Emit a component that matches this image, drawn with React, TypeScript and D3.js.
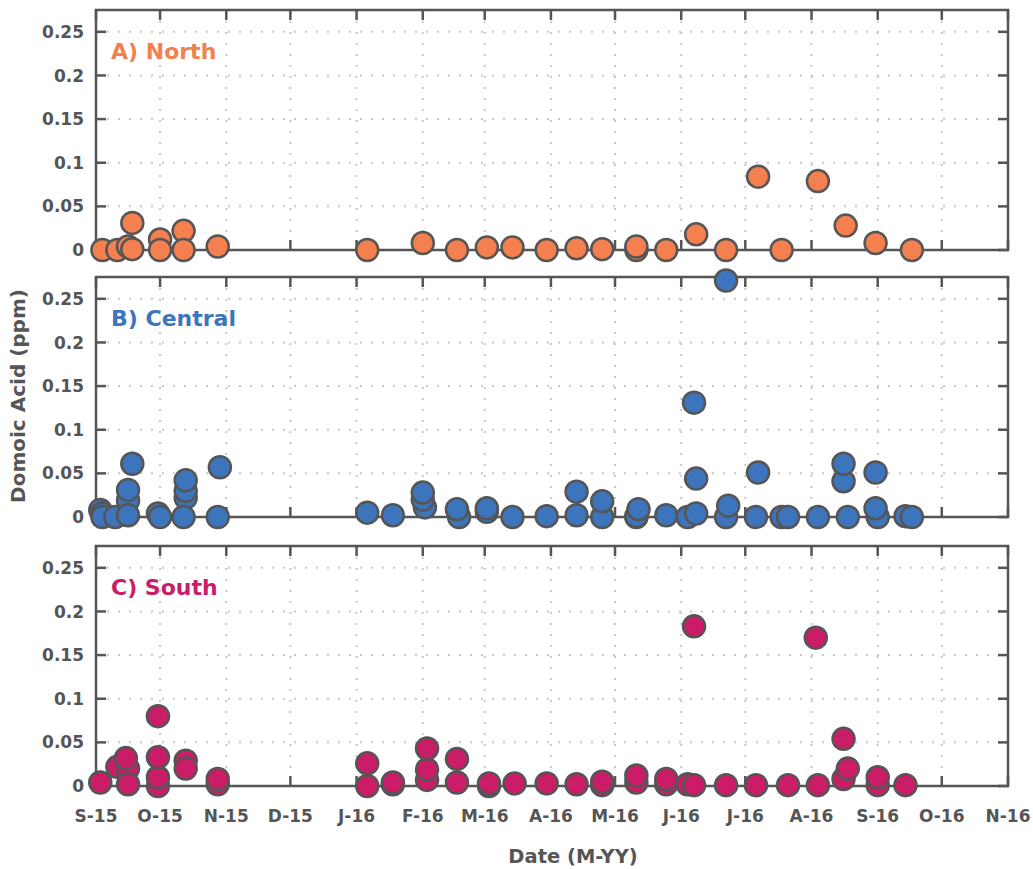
import React from 'react';
import * as d3 from 'd3';

// sample dates and domoic acid (ppm)
const northSamples: [string, number][] = [
  ['2015-09-04', 0], ['2015-09-11', 0], ['2015-09-16', 0.004], ['2015-09-18', 0.031],
  ['2015-09-18', 0.001], ['2015-10-01', 0.012], ['2015-10-01', 0], ['2015-10-12', 0.022],
  ['2015-10-12', 0], ['2015-10-28', 0.004], ['2016-01-06', 0], ['2016-02-01', 0.008],
  ['2016-02-17', 0], ['2016-03-02', 0.003], ['2016-03-14', 0.003], ['2016-03-30', 0],
  ['2016-04-13', 0.002], ['2016-04-25', 0.001], ['2016-05-11', 0], ['2016-05-11', 0.004],
  ['2016-05-25', 0], ['2016-06-08', 0.018], ['2016-06-22', 0], ['2016-07-07', 0.084],
  ['2016-07-18', 0], ['2016-08-04', 0.079], ['2016-08-17', 0.028], ['2016-08-31', 0.008],
  ['2016-09-17', 0],
];

const centralSamples: [string, number][] = [
  ['2015-09-03', 0.008], ['2015-09-04', 0.004], ['2015-09-04', 0], ['2015-09-10', 0],
  ['2015-09-16', 0.019], ['2015-09-16', 0.031], ['2015-09-16', 0.002], ['2015-09-18', 0.061],
  ['2015-09-30', 0.004], ['2015-10-01', 0], ['2015-10-13', 0.022], ['2015-10-13', 0.03],
  ['2015-10-13', 0.042], ['2015-10-12', 0], ['2015-10-29', 0.057], ['2015-10-28', 0],
  ['2016-01-06', 0.005], ['2016-01-18', 0.002], ['2016-02-02', 0.011], ['2016-02-01', 0.02],
  ['2016-02-01', 0.028], ['2016-02-18', 0], ['2016-02-17', 0.009], ['2016-03-02', 0.006],
  ['2016-03-02', 0.01], ['2016-03-14', 0], ['2016-03-30', 0.001], ['2016-04-13', 0.002],
  ['2016-04-13', 0.029], ['2016-04-25', 0], ['2016-04-25', 0.018], ['2016-05-11', 0],
  ['2016-05-11', 0.001], ['2016-05-12', 0.009], ['2016-05-25', 0.002], ['2016-06-04', 0],
  ['2016-06-07', 0.131], ['2016-06-08', 0.004], ['2016-06-08', 0.044], ['2016-06-22', 0],
  ['2016-06-23', 0.013], ['2016-06-22', 0.271], ['2016-07-06', 0], ['2016-07-07', 0.051],
  ['2016-07-18', 0], ['2016-07-21', 0], ['2016-08-04', 0], ['2016-08-16', 0.041],
  ['2016-08-16', 0.061], ['2016-08-18', 0], ['2016-09-01', 0], ['2016-08-31', 0.01],
  ['2016-08-31', 0.051], ['2016-09-14', 0.001], ['2016-09-17', 0],
];

const southSamples: [string, number][] = [
  ['2015-09-03', 0.004], ['2015-09-11', 0.022], ['2015-09-16', 0.02], ['2015-09-15', 0.032],
  ['2015-09-16', 0.002], ['2015-09-30', 0], ['2015-09-30', 0.01], ['2015-09-30', 0.033],
  ['2015-09-30', 0.08], ['2015-10-13', 0.029], ['2015-10-13', 0.02], ['2015-10-28', 0.002],
  ['2015-10-28', 0.008], ['2016-01-06', 0], ['2016-01-06', 0.026], ['2016-01-18', 0.002],
  ['2016-01-18', 0.004], ['2016-02-03', 0.007], ['2016-02-03', 0.019], ['2016-02-03', 0.043],
  ['2016-02-17', 0.004], ['2016-02-17', 0.031], ['2016-03-03', 0], ['2016-03-03', 0.003],
  ['2016-03-15', 0.003], ['2016-03-30', 0.003], ['2016-04-13', 0.002], ['2016-04-25', 0.001],
  ['2016-04-25', 0.005], ['2016-05-11', 0.004], ['2016-05-11', 0.012], ['2016-05-25', 0.002],
  ['2016-05-25', 0.008], ['2016-06-04', 0.002], ['2016-06-07', 0.001], ['2016-06-07', 0.183],
  ['2016-06-22', 0.001], ['2016-07-06', 0.001], ['2016-07-21', 0.001], ['2016-08-03', 0.17],
  ['2016-08-04', 0.001], ['2016-08-16', 0.008], ['2016-08-18', 0.02], ['2016-08-16', 0.054],
  ['2016-09-01', 0.001], ['2016-09-01', 0.01], ['2016-09-14', 0.001],
];

const regionNames = ['A) North', 'B) Central', 'C) South'];
const regionColors = ['#f3804e', '#3d75bd', '#cb1c67'];
const regionSamples = [northSamples, centralSamples, southSamples];

const yTicks = [0, 0.05, 0.1, 0.15, 0.2, 0.25];
const monthLabels = ['S-15', 'O-15', 'N-15', 'D-15', 'J-16', 'F-16', 'M-16', 'A-16',
  'M-16', 'J-16', 'J-16', 'A-16', 'S-16', 'O-16', 'N-16'];

const W = 1033;
const H = 869;
const left = 96;
const right = 1008;
const panelTops = [10, 277, 546];
const panelH = 240;
const ink = '#555';
const font = '"DejaVu Sans", Verdana, sans-serif';

const parse = d3.timeParse('%Y-%m-%d');

const x = d3.scaleTime()
  .domain([new Date(2015, 8, 1), new Date(2016, 10, 1)])
  .range([left, right]);

const months = d3.timeMonth.range(new Date(2015, 8, 1), new Date(2016, 10, 2));

function Panel({ i }: { i: number }) {
  const top = panelTops[i];
  const y = d3.scaleLinear().domain([0, 0.275]).range([top + panelH, top]);
  const bottom = top + panelH;
  const color = regionColors[i];

  return (
    <g>
      {/* dotted grid */}
      {yTicks.slice(1).map((t) => (
        <line key={'gy' + t} x1={left} x2={right} y1={y(t)} y2={y(t)}
          stroke="#c8c8c8" strokeWidth={2} strokeDasharray="2,9" />
      ))}
      {months.slice(1, -1).map((m) => (
        <line key={'gx' + m.getTime()} x1={x(m)} x2={x(m)} y1={top} y2={bottom}
          stroke="#c8c8c8" strokeWidth={2} strokeDasharray="2,9" />
      ))}

      {/* frame */}
      <rect x={left} y={top} width={right - left} height={panelH}
        fill="none" stroke={ink} strokeWidth={2.5} />

      {/* ticks */}
      {yTicks.map((t) => (
        <g key={'ty' + t}>
          <line x1={left} x2={left + 10} y1={y(t)} y2={y(t)} stroke={ink} strokeWidth={2.5} />
          <line x1={right - 10} x2={right} y1={y(t)} y2={y(t)} stroke={ink} strokeWidth={2.5} />
          <text x={84} y={y(t)} dy="0.36em" textAnchor="end" fontFamily={font}
            fontWeight="bold" fontSize={17} fill={ink}>{t}</text>
        </g>
      ))}
      {months.map((m) => (
        <g key={'tx' + m.getTime()}>
          <line x1={x(m)} x2={x(m)} y1={top} y2={top + 10} stroke={ink} strokeWidth={2.5} />
          <line x1={x(m)} x2={x(m)} y1={bottom - 10} y2={bottom} stroke={ink} strokeWidth={2.5} />
        </g>
      ))}

      <text x={111} y={top + 49} fontFamily={font} fontWeight="bold" fontSize={22}
        fill={color}>{regionNames[i]}</text>

      {regionSamples[i].map(([d, v], k) => (
        <circle key={k} cx={x(parse(d) as Date)} cy={y(v)} r={11}
          fill={color} stroke={ink} strokeWidth={2.5} />
      ))}
    </g>
  );
}

export default function App() {
  return (
    <svg width={W} height={H} style={{ position: 'absolute', left: 0, top: 0, display: 'block' }}>
      <rect width={W} height={H} fill="#fff" />
      {regionNames.map((_, i) => <Panel key={i} i={i} />)}
      {months.map((m, k) => (
        <text key={k} x={x(m)} y={822} textAnchor="middle" fontFamily={font}
          fontWeight="bold" fontSize={17} fill={ink}>{monthLabels[k]}</text>
      ))}
      <text x={573} y={863} textAnchor="middle" fontFamily={font} fontWeight="bold"
        fontSize={19.5} fill={ink}>Date (M-YY)</text>
      <text transform="translate(25,396) rotate(-90)" textAnchor="middle" fontFamily={font}
        fontWeight="bold" fontSize={20} fill={ink}>Domoic Acid (ppm)</text>
    </svg>
  );
}
